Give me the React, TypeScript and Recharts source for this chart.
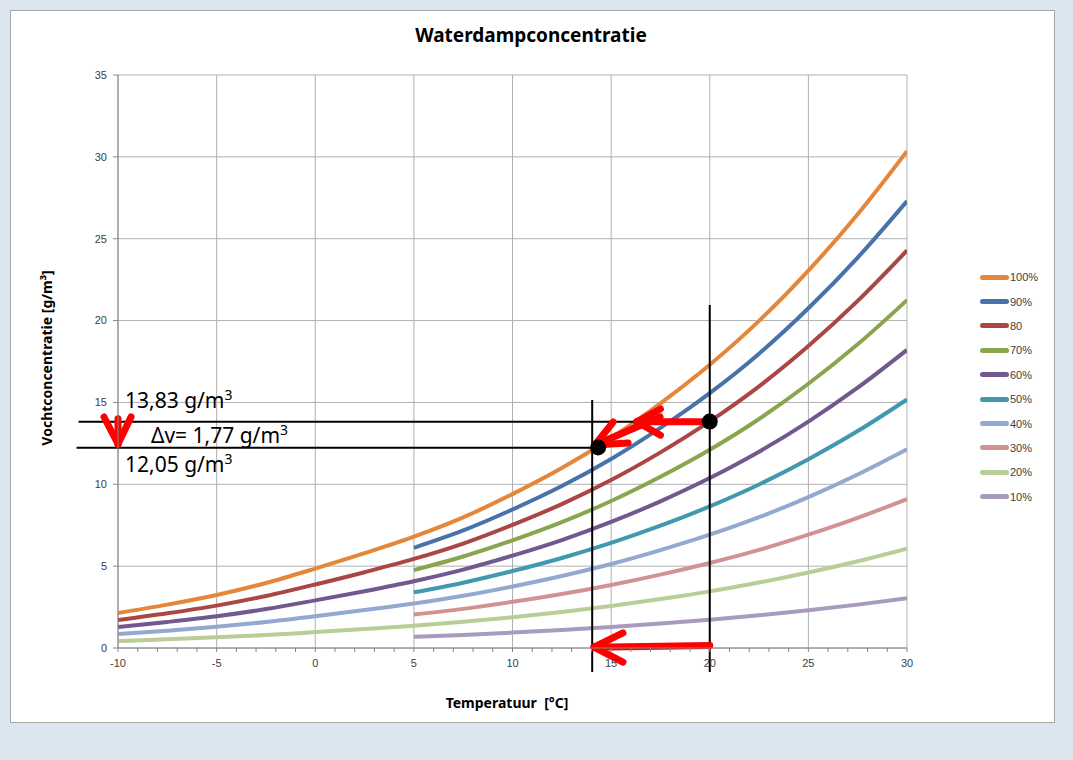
import React from 'react';
import {
  LineChart,
  Line,
  XAxis,
  YAxis,
  CartesianGrid,
  Legend,
  ReferenceLine,
  ReferenceDot,
} from 'recharts';

// temperatures (°C) sampled every 2.5 degrees
const temps = [-10, -7.5, -5, -2.5, 0, 2.5, 5, 7.5, 10, 12.5, 15, 17.5, 20, 22.5, 25, 27.5, 30];

// water vapour concentration (g/m3) per relative humidity
const rh100 = [2.14, 2.65, 3.24, 3.97, 4.85, 5.79, 6.8, 7.98, 9.4, 10.99, 12.83, 14.94, 17.3, 19.98, 23.05, 26.5, 30.35];
const rh90 = [null, null, null, null, null, null, 6.12, 7.18, 8.46, 9.89, 11.55, 13.45, 15.57, 17.98, 20.75, 23.85, 27.3];
const rh80 = [1.71, 2.12, 2.59, 3.18, 3.88, 4.63, 5.44, 6.38, 7.52, 8.79, 10.26, 11.95, 13.84, 15.98, 18.44, 21.2, 24.28];
const rh70 = [null, null, null, null, null, null, 4.76, 5.59, 6.58, 7.69, 8.98, 10.46, 12.11, 13.99, 16.14, 18.55, 21.25];
const rh60 = [1.28, 1.59, 1.94, 2.38, 2.91, 3.47, 4.08, 4.79, 5.64, 6.59, 7.7, 8.96, 10.38, 11.99, 13.83, 15.9, 18.21];
const rh50 = [null, null, null, null, null, null, 3.4, 3.99, 4.7, 5.5, 6.42, 7.47, 8.65, 9.99, 11.53, 13.25, 15.18];
const rh40 = [0.86, 1.06, 1.3, 1.59, 1.94, 2.32, 2.72, 3.19, 3.76, 4.4, 5.13, 5.98, 6.92, 7.99, 9.22, 10.6, 12.14];
const rh30 = [null, null, null, null, null, null, 2.04, 2.39, 2.82, 3.3, 3.85, 4.48, 5.19, 5.99, 6.92, 7.95, 9.1];
const rh20 = [0.43, 0.53, 0.65, 0.79, 0.97, 1.16, 1.36, 1.6, 1.88, 2.2, 2.57, 2.99, 3.46, 4.0, 4.61, 5.3, 6.07];
const rh10 = [null, null, null, null, null, null, 0.68, 0.8, 0.94, 1.1, 1.28, 1.49, 1.73, 2.0, 2.31, 2.65, 3.04];

const xMajorTicks = [-10, -5, 0, 5, 10, 15, 20, 25, 30];
const xMinorTicks = [-10, -9, -8, -7, -6, -5, -4, -3, -2, -1, 0, 1, 2, 3, 4, 5, 6, 7, 8, 9, 10, 11, 12, 13, 14, 15, 16, 17, 18, 19, 20, 21, 22, 23, 24, 25, 26, 27, 28, 29, 30];
const yTicks = [0, 5, 10, 15, 20, 25, 30, 35];

const series = [
  { key: 'rh100', name: '100%', color: '#E4873A', values: rh100 },
  { key: 'rh90', name: '90%', color: '#4773AA', values: rh90 },
  { key: 'rh80', name: '80', color: '#AA4643', values: rh80 },
  { key: 'rh70', name: '70%', color: '#89A54E', values: rh70 },
  { key: 'rh60', name: '60%', color: '#71588F', values: rh60 },
  { key: 'rh50', name: '50%', color: '#4198AF', values: rh50 },
  { key: 'rh40', name: '40%', color: '#93A9CF', values: rh40 },
  { key: 'rh30', name: '30%', color: '#D19392', values: rh30 },
  { key: 'rh20', name: '20%', color: '#B9CD96', values: rh20 },
  { key: 'rh10', name: '10%', color: '#A99BBD', values: rh10 },
];

// annotation (drawn on top of the chart), in data units
const blackSegments = [
  [[-12.0, 13.82], [20, 13.82]],
  [[-12.1, 12.23], [14.3, 12.23]],
  [[20, 20.95], [20, -1.47]],
  [[14.04, 15.15], [14.04, -1.47]],
];
const redSegments = [
  // top arrow
  [[19.8, 13.82], [16.3, 13.82]],
  [[16.3, 13.82], [17.5, 14.6]],
  [[16.3, 13.82], [17.5, 13.0]],
  // diagonal arrow
  [[17.48, 14.11], [14.18, 12.4]],
  [[14.18, 12.4], [15.1, 13.8]],
  [[14.18, 12.4], [15.86, 12.52]],
  // bottom arrow
  [[20.0, 0.15], [14.13, 0.05]],
  [[14.13, 0.05], [15.6, 0.92]],
  [[14.13, 0.05], [15.6, -0.86]],
  // down arrow
  [[-10, 14.0], [-10, 12.46]],
  [[-10, 12.46], [-10.71, 14.11]],
  [[-10, 12.46], [-9.34, 14.11]],
];
const annotationDots = [[20, 13.83], [14.34, 12.25]];

const data = temps.map((t, i) => {
  const row: Record<string, number | null> = { t };
  series.forEach((s) => {
    row[s.key] = s.values[i];
  });
  return row;
});

const tickStyle = { fill: '#404040', fontSize: 11, fontFamily: 'Liberation Sans, Arial, sans-serif' };
const titleFont = 'Noto Sans, Liberation Sans, sans-serif';

function LegendBox() {
  return (
    <div style={{ fontFamily: 'Liberation Sans, Arial, sans-serif', fontSize: 11, color: '#404040' }}>
      {series.map((s) => (
        <div key={s.key} style={{ height: 24.4, display: 'flex', alignItems: 'center' }}>
          <span
            style={{
              display: 'inline-block',
              width: 29,
              height: 5,
              borderRadius: 3,
              background: s.color,
              marginRight: 1,
            }}
          />
          <span>{s.name}</span>
        </div>
      ))}
    </div>
  );
}

export default function App() {
  return (
    <div style={{ position: 'absolute', left: 0, top: 0, width: 1073, height: 760, background: '#dce6f1' }}>
      <div
        style={{
          position: 'absolute',
          left: 10,
          top: 10,
          width: 1045,
          height: 713,
          boxSizing: 'border-box',
          border: '1px solid #a6a6a6',
          background: '#ffffff',
        }}
      />
      <div style={{ position: 'absolute', left: 10, top: 10 }}>
        <LineChart width={1045} height={712} data={data} margin={{ top: 65, right: 148, bottom: 44, left: 68 }}>
          <CartesianGrid stroke="#b0b0b0" verticalValues={xMajorTicks} horizontalValues={yTicks} />
          <XAxis
            dataKey="t"
            type="number"
            domain={[-10, 30]}
            ticks={xMinorTicks}
            interval={0}
            tickFormatter={(v) => (v % 5 === 0 ? String(v) : '')}
            tick={tickStyle}
            tickSize={4}
            tickMargin={7}
            height={30}
            stroke="#868686"
            allowDataOverflow
          />
          <YAxis
            type="number"
            domain={[0, 35]}
            ticks={yTicks}
            interval={0}
            tick={tickStyle}
            tickSize={5}
            tickMargin={6}
            width={40}
            stroke="#868686"
            allowDataOverflow
          />
          {series.map((s) => (
            <Line
              key={s.key}
              type="monotone"
              dataKey={s.key}
              name={s.name}
              stroke={s.color}
              strokeWidth={4}
              dot={false}
              activeDot={false}
              isAnimationActive={false}
            />
          ))}
          {blackSegments.map((seg, i) => (
            <ReferenceLine
              key={'b' + i}
              segment={[{ x: seg[0][0], y: seg[0][1] }, { x: seg[1][0], y: seg[1][1] }]}
              stroke="#000000"
              strokeWidth={2}
              ifOverflow="visible"
            />
          ))}
          {redSegments.map((seg, i) => (
            <ReferenceLine
              key={'r' + i}
              segment={[{ x: seg[0][0], y: seg[0][1] }, { x: seg[1][0], y: seg[1][1] }]}
              stroke="#ff0000"
              strokeWidth={7}
              strokeLinecap="round"
              ifOverflow="visible"
            />
          ))}
          {annotationDots.map((d, i) => (
            <ReferenceDot key={'d' + i} x={d[0]} y={d[1]} r={8} fill="#000000" stroke="none" ifOverflow="visible" />
          ))}
          <Legend
            layout="vertical"
            align="center"
            verticalAlign="middle"
            content={<LegendBox />}
            wrapperStyle={{ position: 'absolute', left: 970, top: 255, width: 70 }}
          />
          <text x={521} y={32} textAnchor="middle" fontFamily={titleFont} fontWeight="bold" fontSize={19} fill="#000000">
            Waterdampconcentratie
          </text>
          <text
            x={497}
            y={698}
            textAnchor="middle"
            fontFamily={titleFont}
            fontWeight="bold"
            fontSize={14}
            fill="#000000"
            style={{ whiteSpace: 'pre' }}
          >
            {'Temperatuur  [°C]'}
          </text>
          <text
            x={42}
            y={348}
            transform="rotate(-90 42 348)"
            textAnchor="middle"
            fontFamily={titleFont}
            fontWeight="bold"
            fontSize={14}
            fill="#000000"
          >
            Vochtconcentratie [g/m³]
          </text>
          <text x={115} y={398} fontFamily={titleFont} fontSize={21} fill="#000000">
            13,83 g/m<tspan dy={-8} fontSize={14}>3</tspan>
          </text>
          <text x={141} y={433} fontFamily={titleFont} fontSize={21} fill="#000000">
            Δv= 1,77 g/m<tspan dy={-8} fontSize={14}>3</tspan>
          </text>
          <text x={115} y={462} fontFamily={titleFont} fontSize={21} fill="#000000">
            12,05 g/m<tspan dy={-8} fontSize={14}>3</tspan>
          </text>
        </LineChart>
      </div>
    </div>
  );
}
